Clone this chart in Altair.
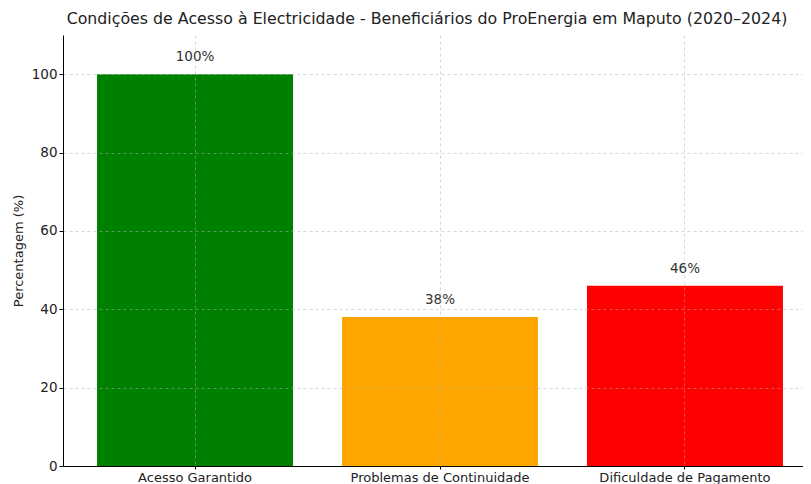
import altair as alt
import pandas as pd

categories = ["Acesso Garantido", "Problemas de Continuidade", "Dificuldade de Pagamento"]
values = [100, 38, 46]
colors = ["#008000", "#FFA500", "#FF0000"]
labels = ["100%", "38%", "46%"]

df = pd.DataFrame({"cat": categories, "val": values, "color": colors, "label": labels})

FONT = "DejaVu Sans"

x = alt.X("cat:N", sort=categories, title=None,
          scale=alt.Scale(range=[0, 754], paddingInner=0.2, paddingOuter=0.139),
          axis=alt.Axis(labelAngle=0, bandPosition=0.5, grid=True, gridDash=[3, 3],
                        gridColor="#b0b0b0", gridOpacity=0.5, domainColor="#000",
                        tickColor="#000", tickSize=3, labelFontSize=13,
                        labelColor="#222", labelFont=FONT, labelPadding=2, zindex=1))
y = alt.Y("val:Q", title="Percentagem (%)",
          scale=alt.Scale(domain=[0, 110], nice=False),
          axis=alt.Axis(values=[0, 20, 40, 60, 80, 100], grid=True, gridDash=[3, 3],
                        gridColor="#b0b0b0", gridOpacity=0.5, domainColor="#000",
                        tickColor="#000", tickSize=4, labelFontSize=13.5, labelColor="#222",
                        labelFont=FONT, titleFont=FONT, titleFontSize=13,
                        titleFontWeight="normal", titleColor="#222", titlePadding=6,
                        zindex=1))

bars = alt.Chart(df).mark_bar(size=196).encode(
    x=x, y=y, color=alt.Color("color:N", scale=None)
)
text = alt.Chart(df).mark_text(dy=-17, fontSize=13.5, font=FONT, color="#333").encode(
    x=alt.X("cat:N", sort=categories), y="val:Q", text="label:N"
)

chart = (bars + text).properties(
    width=740, height=431,
    title=alt.TitleParams(
        "Condições de Acesso à Electricidade - Beneficiários do ProEnergia em Maputo (2020–2024)",
        font=FONT, fontSize=15.8, fontWeight="normal", color="#222", anchor="middle",
        offset=7, dx=-6),
    autosize=alt.AutoSizeParams(type="none"),
    padding={"left": 55, "top": 27, "right": 0, "bottom": 18},
).configure_view(stroke=None)

chart.save("out.html", embed_options={"renderer": "svg", "actions": False})
